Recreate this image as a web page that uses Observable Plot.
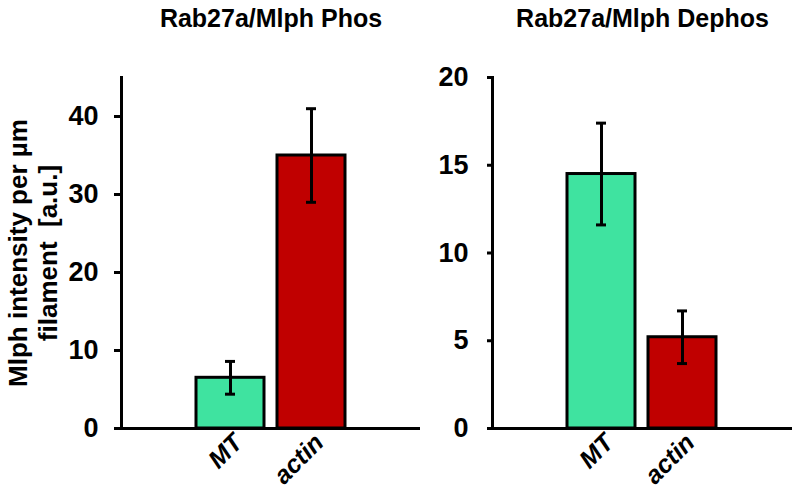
<!DOCTYPE html>
<html>
<head>
<meta charset="utf-8">
<script src="https://cdn.jsdelivr.net/npm/d3@7"></script>
<script src="https://cdn.jsdelivr.net/npm/@observablehq/plot@0.6"></script>
<style>
  html, body { margin: 0; padding: 0; background: #fff; }
  #wrap { position: relative; width: 796px; height: 500px; font-family: "Liberation Sans", Arial, sans-serif; }
  #wrap > div { position: absolute; top: 0; }
</style>
</head>
<body>
<div id="wrap"><div id="left"></div><div id="right"></div></div>
<script>
// ---- data ----
const categories = ["MT", "actin"];
const colors = ["#3FE3A0", "#C00000"];

const phosTitle = "Rab27a/Mlph Phos";
const phosMean = [6.5, 35.0];
const phosLow = [4.4, 29.0];
const phosHigh = [8.6, 41.0];
const phosTicks = [0, 10, 20, 30, 40];

const dephosTitle = "Rab27a/Mlph Dephos";
const dephosMean = [14.5, 5.2];
const dephosLow = [11.6, 3.7];
const dephosHigh = [17.4, 6.7];
const dephosTicks = [0, 5, 10, 15, 20];

const yLabel = "Mlph intensity per µm\nfilament  [a.u.]";

const FONT = "'Liberation Sans', Arial, sans-serif";

function panel({title, mean, low, high, ticks, yMax, width, marginLeft, marginRight, tickSize, tickPadding, withLabel}) {
  const data = categories.map((c, i) => ({cat: c, mean: mean[i], lo: low[i], hi: high[i]}));
  const marks = [
    Plot.barY(data, {x: "cat", y: "mean", fill: "cat", stroke: "black", strokeWidth: 3}),
    Plot.ruleX(data, {x: "cat", y1: "lo", y2: "hi", stroke: "black", strokeWidth: 3}),
    Plot.tickY(data, {x: "cat", y: "lo", stroke: "black", strokeWidth: 3, insetLeft: 29, insetRight: 29}),
    Plot.tickY(data, {x: "cat", y: "hi", stroke: "black", strokeWidth: 3, insetLeft: 29, insetRight: 29}),
    Plot.frame({anchor: "left", stroke: "black", strokeWidth: 3}),
    Plot.ruleY([0], {stroke: "black", strokeWidth: 3}),
    Plot.axisY({ticks, tickSize, tickPadding, strokeWidth: 3, fontSize: 27, fontWeight: "bold", label: null, tickFormat: d => String(d)}),
    Plot.axisX({tickSize: 0, tickRotate: -45, tickPadding: 10, dx: 8, fontSize: 25, fontWeight: "bold", fontStyle: "italic", label: null}),
    Plot.text([title], {frameAnchor: "top", dy: -59, fontSize: 25, fontWeight: "bold", lineAnchor: "middle"})
  ];
  if (withLabel) {
    marks.push(Plot.text([yLabel], {frameAnchor: "left", rotate: -90, dx: -89, textAnchor: "middle", lineAnchor: "middle", lineHeight: 1.15, fontSize: 26, fontWeight: "bold"}));
  }
  return Plot.plot({
    width, height: 500,
    marginLeft, marginRight, marginTop: 77, marginBottom: 72,
    style: {background: "transparent", fontFamily: FONT, color: "black", overflow: "visible"},
    x: {domain: categories, paddingInner: 0.16, paddingOuter: 0.91, axis: null},
    y: {domain: [0, yMax], axis: null},
    color: {domain: categories, range: colors},
    marks
  });
}

const left = panel({title: phosTitle, mean: phosMean, low: phosLow, high: phosHigh, ticks: phosTicks, yMax: 45,
  width: 420, marginLeft: 121, marginRight: 0, tickSize: 7, tickPadding: 16, withLabel: true});
const right = panel({title: dephosTitle, mean: dephosMean, low: dephosLow, high: dephosHigh, ticks: dephosTicks, yMax: 20,
  width: 396, marginLeft: 92, marginRight: 4, tickSize: 5, tickPadding: 19, withLabel: false});

const L = document.getElementById("left"); L.style.left = "0px"; L.appendChild(left);
const R = document.getElementById("right"); R.style.left = "400px"; R.appendChild(right);
</script>
</body>
</html>
